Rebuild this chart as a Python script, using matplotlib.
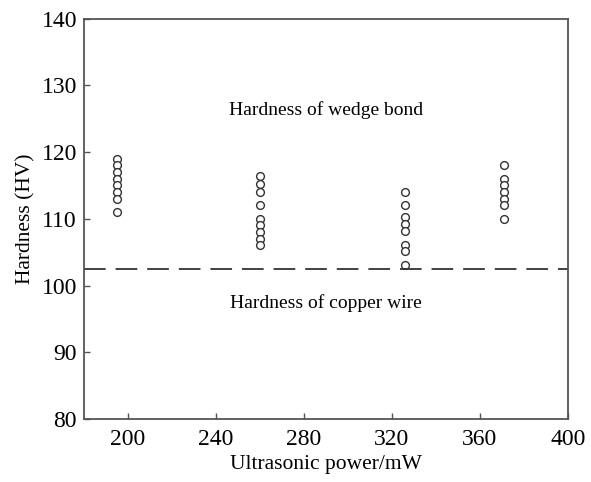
import matplotlib
matplotlib.use("Agg")
import matplotlib.pyplot as plt

plt.rcParams['font.family'] = ['Liberation Serif', 'DejaVu Serif']

power_195 = [119, 118, 117, 116, 115, 114, 113, 111]
power_260 = [116.4, 115.2, 114, 112, 110, 109, 108, 107, 106]
power_325 = [114, 112, 110.2, 109.2, 108.1, 106.1, 105.1, 103.1]
power_370 = [118, 116, 115, 114, 113, 112, 110]
powers = [195, 260, 326, 371]
series = [power_195, power_260, power_325, power_370]
copper_wire_hardness = 102.5
xticks = [200, 240, 280, 320, 360, 400]
yticks = [80, 90, 100, 110, 120, 130, 140]

fig = plt.figure(figsize=(5.91, 4.82), dpi=100)
ax = fig.add_axes([0.142, 0.131, 0.819, 0.830])

for p, vals in zip(powers, series):
    ax.plot([p] * len(vals), vals, linestyle='none', marker='o', markersize=5.6,
            markerfacecolor='white', markeredgecolor='#333333', markeredgewidth=1.0)

ax.axhline(copper_wire_hardness, color='#333333', linewidth=1.3, dashes=(12, 5.5))

ax.text(290, 126.3, 'Hardness of wedge bond', ha='center', va='center', fontsize=14)
ax.text(290, 97.3, 'Hardness of copper wire', ha='center', va='center', fontsize=14)

ax.set_xlim(180, 400)
ax.set_ylim(80, 140)
ax.set_xticks(xticks)
ax.set_yticks(yticks)
ax.tick_params(direction='in', length=4, width=1, labelsize=17, color='#555555',
               top=False, right=False)
ax.tick_params(axis='x', pad=7)
ax.tick_params(axis='y', pad=5)
for s in ax.spines.values():
    s.set_color('#555555')
    s.set_linewidth(1.3)
ax.set_xlabel('Ultrasonic power/mW', fontsize=15.5, labelpad=4)
ax.set_ylabel('Hardness (HV)', fontsize=15.5, labelpad=4)

fig.savefig('out.png', dpi=100)
